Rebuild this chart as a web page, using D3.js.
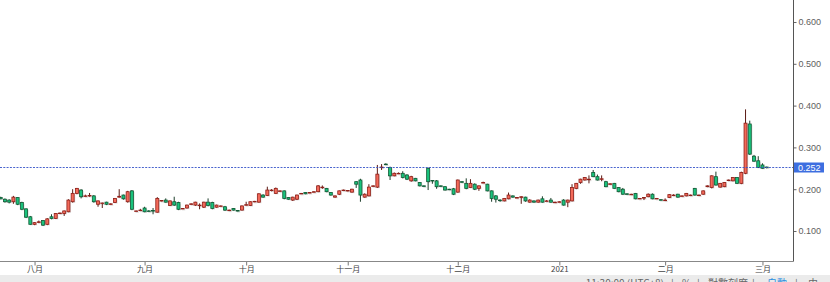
<!DOCTYPE html>
<html>
<head>
<meta charset="utf-8">
<script src="https://cdn.jsdelivr.net/npm/d3@7"></script>
<style>
  html, body { margin: 0; padding: 0; background: #fff; }
  svg { display: block; }
</style>
</head>
<body>
<div class="chartPlaceholder"></div>
<script>
// daily candles, oldest first
const OPEN = [
  .180, .176, .174, .170, .180, .168, .153, .134, .116, .122,
  .125, .116, .134, .130, .142, .142, .146, .170, .190, .198,
  .184, .184, .184, .164, .166, .169, .164, .168, .181, .186,
  .170, .196, .148, .150, .155, .148, .149, .145, .172, .174,
  .161, .170, .168, .154, .155, .164, .162, .162, .157, .169,
  .168, .157, .160, .158, .150, .154, .149, .150, .162, .161,
  .170, .169, .186, .185, .198, .190, .195, .196, .180, .174,
  .176, .190, .192, .192, .194, .194, .204, .202, .192, .181,
  .188, .198, .196, .193, .218, .222, .181, .184, .207, .205,
  .252, .260, .252, .232, .238, .238, .234, .220, .226, .216,
  .208, .250, .221, .220, .208, .206, .200, .201, .193, .218,
  .214, .204, .212, .202, .216, .212, .196, .184, .174, .172,
  .177, .184, .180, .180, .181, .169, .172, .169, .177, .172,
  .174, .169, .170, .174, .169, .172, .202, .216, .222, .224,
  .240, .230, .224, .218, .212, .214, .204, .200, .189, .188,
  .190, .178, .180, .182, .188, .178, .175, .174, .180, .186,
  .188, .184, .184, .186, .202, .186, .188, .206, .204, .230,
  .205, .206, .222, .220, .228, .214, .238, .356, .279, .268,
  .258, .253
];
const HIGH = [
  .182, .178, .176, .184, .181, .170, .154, .136, .121, .125,
  .126, .131, .140, .143, .144, .149, .176, .200, .203, .200,
  .187, .191, .186, .173, .168, .170, .166, .179, .200, .187,
  .196, .198, .149, .153, .158, .150, .155, .181, .174, .178,
  .173, .182, .170, .155, .163, .166, .170, .166, .170, .178,
  .170, .163, .161, .160, .151, .155, .150, .161, .170, .171,
  .172, .190, .188, .206, .200, .204, .197, .197, .181, .182,
  .187, .191, .193, .193, .195, .210, .209, .203, .193, .185,
  .197, .199, .198, .201, .219, .225, .190, .212, .209, .258,
  .260, .262, .254, .240, .240, .243, .236, .232, .227, .217,
  .209, .252, .222, .222, .209, .207, .201, .203, .223, .219,
  .226, .224, .214, .209, .218, .213, .197, .186, .176, .179,
  .192, .185, .181, .183, .182, .176, .173, .175, .183, .174,
  .179, .170, .171, .176, .175, .212, .215, .225, .229, .233,
  .246, .235, .233, .220, .214, .215, .205, .203, .190, .189,
  .191, .179, .181, .190, .190, .179, .176, .178, .188, .188,
  .189, .185, .191, .187, .203, .187, .197, .209, .233, .242,
  .215, .217, .223, .229, .229, .242, .391, .364, .282, .279,
  .262, .254
];
const LOW = [
  .176, .168, .166, .165, .162, .150, .131, .115, .114, .119,
  .112, .114, .128, .129, .141, .136, .145, .168, .188, .178,
  .182, .182, .168, .158, .155, .162, .163, .167, .180, .175,
  .168, .150, .147, .148, .145, .146, .140, .144, .171, .168,
  .160, .160, .150, .153, .154, .163, .160, .152, .155, .159,
  .152, .156, .159, .148, .149, .149, .147, .149, .161, .160,
  .169, .168, .180, .184, .195, .189, .194, .176, .175, .172,
  .174, .189, .188, .191, .193, .193, .201, .193, .185, .180,
  .186, .196, .195, .192, .203, .170, .180, .183, .206, .203,
  .246, .258, .222, .231, .237, .226, .222, .218, .219, .207,
  .206, .198, .213, .201, .206, .197, .198, .186, .192, .215,
  .200, .203, .198, .196, .215, .195, .170, .168, .170, .171,
  .176, .180, .179, .165, .170, .168, .168, .168, .168, .171,
  .168, .168, .169, .161, .157, .171, .200, .213, .221, .214,
  .229, .221, .219, .205, .211, .201, .193, .187, .187, .187,
  .176, .177, .174, .181, .176, .177, .173, .172, .179, .184,
  .180, .183, .183, .185, .185, .185, .187, .205, .202, .209,
  .204, .205, .221, .219, .213, .212, .236, .282, .266, .251,
  .249, .250
];
const CLOSE = [
  .177, .170, .169, .181, .164, .152, .133, .116, .120, .122,
  .114, .129, .130, .142, .143, .148, .174, .190, .202, .182,
  .184, .185, .170, .172, .167, .164, .165, .178, .183, .177,
  .194, .152, .148, .150, .146, .147, .148, .178, .173, .169,
  .172, .162, .152, .154, .162, .165, .169, .162, .169, .161,
  .154, .162, .160, .150, .150, .150, .148, .160, .163, .170,
  .171, .189, .181, .198, .198, .202, .196, .178, .176, .181,
  .186, .190, .189, .192, .194, .208, .205, .194, .186, .184,
  .196, .198, .197, .200, .212, .186, .188, .205, .208, .236,
  .253, .259, .232, .238, .238, .228, .224, .230, .220, .208,
  .207, .218, .220, .206, .207, .198, .199, .188, .222, .217,
  .202, .214, .200, .208, .216, .196, .178, .176, .173, .178,
  .186, .181, .180, .182, .172, .174, .169, .174, .169, .172,
  .169, .169, .170, .162, .174, .204, .214, .224, .228, .224,
  .230, .222, .225, .206, .213, .202, .194, .188, .188, .188,
  .177, .178, .180, .188, .177, .178, .174, .174, .187, .186,
  .181, .184, .190, .186, .186, .186, .196, .208, .232, .210,
  .214, .216, .222, .228, .214, .240, .358, .284, .267, .252,
  .250, .252
];

// candle index where each month label sits
const MONTH_INDEX = [8, 34, 58, 82, 108, 132, 157, 180];
const MONTH_LABELS = ['八月', '九月', '十月', '十一月', '十二月', '2021', '二月', '三月'];
const PRICE_TICKS = [0.1, 0.2, 0.3, 0.4, 0.5, 0.6];
const FOOTER_ITEMS = ['11:30:00 (UTC+8)', '|', '%', '|', '對數刻度', '|', '自動', '|', '由'];

const WIDTH = 830;
const HEIGHT = 282;
const PLOT = { RIGHT: 793, BOTTOM: 261 };

const UP_FILL = '#f36a5a', UP_LINE = '#8e1f18';
const DOWN_FILL = '#19c37d', DOWN_LINE = '#135a35';

let svg = d3.select('.chartPlaceholder')
  .append('svg')
  .attr('width', WIDTH)
  .attr('height', HEIGHT);

let x = d3.scaleLinear().domain([0, CLOSE.length - 1]).range([0.7, 766.7]);
let y = d3.scaleLinear().domain([0.1, 0.6]).range([231, 22]);

let candles = CLOSE.map((c, i) => ({ i, o: OPEN[i], h: HIGH[i], l: LOW[i], c }));

// faint shadow behind bodies, like the source renders
svg.append('g')
  .selectAll('rect')
  .data(candles)
  .enter()
  .append('rect')
  .attr('x', d => x(d.i) - 0.6)
  .attr('y', d => y(Math.max(d.o, d.c)) + 1)
  .attr('width', 3.2)
  .attr('height', d => Math.max(1, Math.abs(y(d.o) - y(d.c))))
  .attr('fill', '#c8c8c8')
  .attr('opacity', 0.6);

// wicks
svg.append('g')
  .selectAll('line')
  .data(candles)
  .enter()
  .append('line')
  .attr('x1', d => x(d.i))
  .attr('x2', d => x(d.i))
  .attr('y1', d => y(d.h))
  .attr('y2', d => y(d.l))
  .attr('stroke', d => d.c >= d.o ? '#5a1a14' : '#1d3d2a')
  .attr('stroke-width', 1);

// bodies
svg.append('g')
  .selectAll('rect')
  .data(candles)
  .enter()
  .append('rect')
  .attr('x', d => x(d.i) - 1.5)
  .attr('y', d => y(Math.max(d.o, d.c)))
  .attr('width', 3)
  .attr('height', d => Math.max(0.6, Math.abs(y(d.o) - y(d.c))))
  .attr('fill', d => d.c >= d.o ? UP_FILL : DOWN_FILL)
  .attr('stroke', d => d.c >= d.o ? UP_LINE : DOWN_LINE)
  .attr('stroke-width', 0.8);

// last price line + label
let last = CLOSE[CLOSE.length - 1];
svg.append('line')
  .attr('x1', 0)
  .attr('x2', PLOT.RIGHT)
  .attr('y1', Math.round(y(last)) + 0.5)
  .attr('y2', Math.round(y(last)) + 0.5)
  .attr('stroke', '#3553c8')
  .attr('stroke-width', 0.9)
  .attr('stroke-dasharray', '2,1.3');

// axes
let yAxis = d3.axisRight(y)
  .tickValues(PRICE_TICKS)
  .tickFormat(d3.format('.3f'))
  .tickSize(3)
  .tickPadding(2);

let yAxisG = svg.append('g')
  .attr('transform', `translate(${PLOT.RIGHT + 0.5}, 0)`)
  .call(yAxis);
yAxisG.select('.domain').remove();
yAxisG.selectAll('line').attr('stroke', '#666');
yAxisG.selectAll('text')
  .attr('fill', '#606060')
  .style('font-family', '"Liberation Sans", Arial, sans-serif')
  .style('font-size', '9px');

svg.append('line')
  .attr('x1', PLOT.RIGHT + 0.5)
  .attr('x2', PLOT.RIGHT + 0.5)
  .attr('y1', 0)
  .attr('y2', PLOT.BOTTOM + 0.5)
  .attr('stroke', '#555');

let xAxis = d3.axisBottom(x)
  .tickValues(MONTH_INDEX)
  .tickFormat((d, i) => MONTH_LABELS[i])
  .tickSize(4)
  .tickPadding(1);

let xAxisG = svg.append('g')
  .attr('transform', `translate(0, ${PLOT.BOTTOM + 0.5})`)
  .call(xAxis);
xAxisG.select('.domain').remove();
xAxisG.selectAll('line').attr('stroke', '#777');
xAxisG.selectAll('text')
  .attr('fill', '#444')
  .style('font-family', '"Noto Sans CJK TC", sans-serif')
  .style('font-size', '8px');

svg.append('line')
  .attr('x1', 0)
  .attr('x2', PLOT.RIGHT + 0.5)
  .attr('y1', PLOT.BOTTOM + 0.5)
  .attr('y2', PLOT.BOTTOM + 0.5)
  .attr('stroke', '#888');

let ly = Math.round(y(last)) - 4.5;
svg.append('rect')
  .attr('x', PLOT.RIGHT + 1)
  .attr('y', ly)
  .attr('width', 30)
  .attr('height', 10)
  .attr('fill', '#3d6ee0');
svg.append('text')
  .attr('x', PLOT.RIGHT + 5)
  .attr('y', ly + 8.2)
  .attr('fill', '#fff')
  .style('font-family', '"Liberation Sans", Arial, sans-serif')
  .style('font-size', '9px')
  .text(d3.format('.3f')(last));

// footer strip, mostly cut by the window edge
svg.append('rect')
  .attr('x', 0)
  .attr('y', 275)
  .attr('width', WIDTH)
  .attr('height', 7)
  .attr('fill', '#ebebeb');

const FOOTER_X = [664, 671, 682, 697, 708, 752, 767, 795, 808];
svg.append('g')
  .selectAll('text')
  .data(FOOTER_ITEMS)
  .enter()
  .append('text')
  .attr('x', (d, i) => FOOTER_X[i])
  .attr('y', 287)
  .attr('text-anchor', (d, i) => i === 0 ? 'end' : 'start')
  .attr('fill', d => d === '自動' ? '#2a8ee0' : '#666')
  .style('font-family', '"Noto Sans CJK TC", sans-serif')
  .style('font-size', '10px')
  .text(d => d);
</script>
</body>
</html>
